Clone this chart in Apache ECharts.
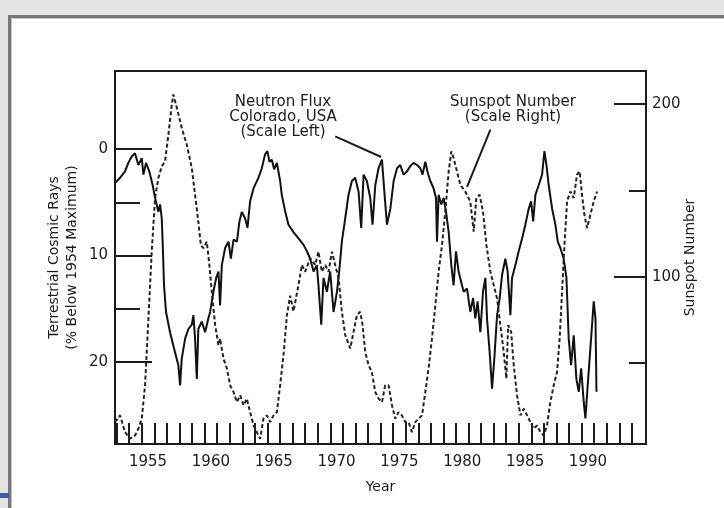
<!DOCTYPE html>
<html>
<head>
<meta charset="utf-8">
<script src="https://cdn.jsdelivr.net/npm/echarts@6.0.0/dist/echarts.min.js"></script>
<style>
  html, body { margin: 0; padding: 0; background: #e4e4e4; overflow: hidden; }
  #panel { position: absolute; left: 8px; top: 15px; width: 730px; height: 500px; background: #fff;
    border-top: 3px solid #777; border-left: 3px solid #777; box-shadow: inset 1px 1px 0 #c4c4c4; }
  #tab { position: absolute; left: 0; top: 493px; width: 9px; height: 5px; background: #3b5bb5; }
  #main { position: absolute; left: 0; top: 0; width: 724px; height: 508px; }
</style>
</head>
<body>
<div id="panel"></div>
<div id="tab"></div>
<div id="main"></div>
<script>
// neutron flux, Colorado (% below 1954 maximum, left scale, inverted)
const neutronYears = [
  1952.37, 1952.77, 1953.17, 1953.43, 1953.70, 1953.96, 1954.23, 1954.50, 1954.63, 1954.84,
  1955.10, 1955.37, 1955.56, 1955.82, 1955.96, 1956.09, 1956.17, 1956.27, 1956.43, 1956.75,
  1957.15, 1957.41, 1957.55, 1957.68, 1957.95, 1958.21, 1958.48, 1958.61, 1958.74, 1958.88,
  1959.00, 1959.27, 1959.54, 1959.80, 1959.94, 1960.20, 1960.42, 1960.60, 1960.73, 1960.87,
  1961.13, 1961.40, 1961.59, 1961.80, 1962.07, 1962.27, 1962.46, 1962.72, 1962.91, 1963.12,
  1963.39, 1963.78, 1964.05, 1964.31, 1964.50, 1964.66, 1964.85, 1965.03, 1965.25, 1965.51,
  1965.64, 1965.90, 1966.17, 1966.57, 1966.97, 1967.37, 1967.64, 1967.90, 1968.17, 1968.43,
  1968.56, 1968.78, 1968.96, 1969.23, 1969.49, 1969.76, 1970.03, 1970.21, 1970.42, 1970.69,
  1970.95, 1971.22, 1971.48, 1971.75, 1971.96, 1972.15, 1972.41, 1972.68, 1972.86, 1973.08,
  1973.34, 1973.61, 1973.82, 1974.01, 1974.28, 1974.54, 1974.81, 1975.07, 1975.33, 1975.60,
  1975.87, 1976.13, 1976.40, 1976.66, 1976.84, 1977.06, 1977.27, 1977.46, 1977.72, 1977.91,
  1977.99, 1978.12, 1978.33, 1978.52, 1978.71, 1978.92, 1979.13, 1979.31, 1979.50, 1979.71,
  1979.98, 1980.11, 1980.38, 1980.64, 1980.86, 1981.04, 1981.22, 1981.44, 1981.65, 1981.84,
  1981.97, 1982.18, 1982.37, 1982.55, 1982.77, 1982.98, 1983.17, 1983.43, 1983.61, 1983.83,
  1983.96, 1984.23, 1984.49, 1984.76, 1985.02, 1985.29, 1985.48, 1985.64, 1985.82, 1986.08,
  1986.35, 1986.54, 1986.70, 1986.88, 1987.15, 1987.41, 1987.60, 1987.81, 1988.07, 1988.29,
  1988.47, 1988.66, 1988.87, 1989.08, 1989.27, 1989.46, 1989.67, 1989.80, 1989.98, 1990.25,
  1990.46, 1990.60, 1990.68
]
const neutronFlux = [
  3.2, 2.7, 2.1, 1.3, 0.7, 0.4, 1.5, 0.85, 2.4, 1.3,
  2.1, 3.4, 4.6, 5.9, 5.2, 6.5, 9.0, 12.8, 15.3, 17.2,
  19.1, 20.3, 22.2, 19.7, 17.8, 16.9, 16.5, 15.6, 17.8, 21.6,
  16.9, 16.2, 17.2, 15.9, 15.3, 13.4, 12.1, 11.5, 14.7, 10.9,
  9.3, 8.7, 10.3, 8.5, 8.7, 6.8, 5.9, 6.5, 7.4, 4.9,
  3.7, 2.7, 1.8, 0.5, 0.2, 1.2, 1.0, 1.9, 1.3, 3.0,
  4.3, 5.8, 7.1, 7.8, 8.4, 9.0, 9.6, 10.3, 11.5, 10.9,
  12.8, 16.5, 12.1, 13.4, 11.5, 15.3, 13.4, 11.5, 8.7, 6.5,
  4.3, 3.0, 2.7, 4.0, 7.4, 2.4, 3.0, 4.6, 7.1, 3.4,
  1.8, 1.0, 4.3, 7.1, 5.6, 3.0, 1.8, 1.5, 2.4, 2.1,
  1.6, 1.3, 1.5, 1.8, 2.4, 1.2, 2.3, 3.0, 3.7, 4.6,
  8.7, 4.3, 5.2, 4.6, 5.9, 7.8, 10.9, 12.8, 9.6, 11.5,
  12.8, 13.4, 13.1, 15.3, 14.0, 15.9, 14.3, 17.2, 13.4, 12.1,
  15.9, 19.1, 22.5, 19.7, 15.6, 14.0, 11.8, 10.3, 11.5, 15.6,
  12.1, 10.9, 9.6, 8.4, 7.1, 5.6, 4.9, 6.8, 4.3, 3.4,
  2.4, 0.2, 1.5, 3.4, 5.6, 7.1, 8.7, 9.3, 10.3, 12.1,
  17.8, 20.3, 17.5, 21.6, 22.8, 20.6, 23.8, 25.3, 22.2, 17.8,
  14.3, 15.9, 22.8
]

// sunspot number (right scale)
const sunspotYears = [
  1952.37, 1952.77, 1953.17, 1953.57, 1953.96, 1954.23, 1954.50, 1954.76, 1955.03, 1955.29,
  1955.56, 1955.82, 1956.09, 1956.35, 1956.62, 1956.89, 1957.01, 1957.29, 1957.68, 1958.08,
  1958.48, 1958.74, 1959.00, 1959.20, 1959.40, 1959.67, 1959.88, 1960.07, 1960.34, 1960.60,
  1960.73, 1961.00, 1961.27, 1961.53, 1961.80, 1962.07, 1962.33, 1962.60, 1962.86, 1963.12,
  1963.39, 1963.66, 1963.92, 1964.18, 1964.45, 1964.72, 1964.98, 1965.25, 1965.51, 1965.80,
  1966.05, 1966.31, 1966.57, 1966.97, 1967.24, 1967.50, 1967.90, 1968.30, 1968.56, 1968.83,
  1969.10, 1969.36, 1969.63, 1969.89, 1970.16, 1970.42, 1970.69, 1971.09, 1971.35, 1971.62,
  1971.88, 1972.07, 1972.28, 1972.55, 1972.81, 1973.08, 1973.34, 1973.61, 1973.87, 1974.14,
  1974.41, 1974.67, 1974.93, 1975.20, 1975.47, 1975.73, 1976.00, 1976.26, 1976.53, 1976.80,
  1977.06, 1977.32, 1977.59, 1977.86, 1978.12, 1978.39, 1978.65, 1978.92, 1979.13, 1979.31,
  1979.58, 1979.85, 1980.24, 1980.64, 1980.91, 1981.12, 1981.38, 1981.65, 1981.92, 1982.24,
  1982.50, 1982.77, 1983.03, 1983.30, 1983.51, 1983.65, 1983.89, 1984.10, 1984.36, 1984.63,
  1984.89, 1985.16, 1985.42, 1985.68, 1985.95, 1986.22, 1986.48, 1986.75, 1987.01, 1987.28,
  1987.54, 1987.75, 1987.94, 1988.13, 1988.34, 1988.60, 1988.87, 1989.13, 1989.34, 1989.53,
  1989.72, 1989.93, 1990.19, 1990.46, 1990.73
]
const sunspotNumber = [
  15.9, 19.8, 10.1, 6.3, 8.2, 12.1, 17.9, 37.2, 75.9, 114.5,
  145.5, 157.1, 163.8, 166.7, 182.2, 199.6, 205.4, 197.7, 186.1, 176.4,
  162.9, 147.4, 131.9, 118.4, 116.5, 120.3, 106.8, 91.3, 72.0, 60.4,
  64.3, 52.7, 46.9, 37.2, 33.3, 27.5, 31.4, 25.6, 29.5, 21.7,
  14.0, 10.1, 6.3, 17.9, 19.8, 15.9, 19.8, 21.7, 37.2, 56.5,
  78.0, 89.0, 80.0, 95.2, 106.8, 102.9, 110.7, 106.8, 114.5, 102.9,
  106.8, 102.9, 114.5, 106.8, 99.1, 79.7, 66.2, 58.5, 68.1, 77.8,
  79.7, 72.0, 56.5, 48.8, 44.9, 33.3, 29.5, 27.5, 37.2, 37.2,
  25.6, 17.9, 21.7, 19.8, 15.9, 15.9, 10.1, 15.9, 17.9, 19.8,
  33.3, 46.9, 64.3, 83.6, 102.9, 118.4, 137.7, 160.9, 172.5, 168.7,
  160.9, 153.2, 149.3, 143.5, 126.1, 145.5, 147.4, 137.7, 118.4, 102.9,
  95.2, 87.5, 72.0, 56.5, 41.1, 72.0, 68.1, 48.8, 31.4, 19.8,
  23.6, 19.8, 15.9, 12.1, 14.0, 10.1, 8.2, 14.0, 27.5, 37.2,
  44.9, 64.3, 91.3, 118.4, 143.5, 149.3, 145.5, 159.0, 160.9, 147.4,
  135.8, 128.1, 135.8, 143.5, 149.3
]

const yearLabels = [1955, 1960, 1965, 1970, 1975, 1980, 1985, 1990]
const yearTicks = [
  1952.5, 1953.5, 1954.5, 1955.5, 1956.5, 1957.5, 1958.5, 1959.5, 1960.5, 1961.5,
  1962.5, 1963.5, 1964.5, 1965.5, 1966.5, 1967.5, 1968.5, 1969.5, 1970.5, 1971.5,
  1972.5, 1973.5, 1974.5, 1975.5, 1976.5, 1977.5, 1978.5, 1979.5, 1980.5, 1981.5,
  1982.5, 1983.5, 1984.5, 1985.5, 1986.5, 1987.5, 1988.5, 1989.5, 1990.5, 1991.5,
  1992.5, 1993.5
]
const leftLabels = [0, 10, 20]
const leftMinorTicks = [5, 15]
const rightLabels = [100, 200]
const rightMinorTicks = [50, 150]

const ink = '#1c1c1c'
const font = 'DejaVu Sans'
const tickLine = { lineStyle: { color: ink, width: 2 } }

function leftAxis(ticks, len, withLabels) {
  return {
    type: 'value',
    position: 'left',
    min: -7.33,
    max: 27.7,
    inverse: true,
    splitLine: { show: false },
    axisLine: { show: withLabels, onZero: false, lineStyle: { color: ink, width: 2 } },
    axisTick: { inside: true, length: len, customValues: ticks, ...tickLine },
    axisLabel: withLabels
      ? { customValues: ticks, margin: 7, fontFamily: font, fontSize: 15, color: ink }
      : { show: false },
  }
}
function rightAxis(ticks, len, withLabels) {
  return {
    type: 'value',
    position: 'right',
    min: 3.25,
    max: 219,
    splitLine: { show: false },
    axisLine: { show: withLabels, onZero: false, lineStyle: { color: ink, width: 2 } },
    axisTick: { inside: true, length: len, customValues: ticks, ...tickLine },
    axisLabel: withLabels
      ? { customValues: ticks, margin: 6, fontFamily: font, fontSize: 15, color: ink }
      : { show: false },
  }
}

const yLeft = leftAxis(leftLabels, 37, true)
yLeft.name = 'Terrestrial Cosmic Rays\n(% Below 1954 Maximum)'
yLeft.nameLocation = 'middle'
yLeft.nameRotate = 90
yLeft.nameGap = 34
yLeft.nameMoveOverlap = false
yLeft.nameTextStyle = { fontFamily: font, fontSize: 14, lineHeight: 18, color: ink }

const yRight = rightAxis(rightLabels, 32, true)
yRight.name = 'Sunspot Number'
yRight.nameLocation = 'middle'
yRight.nameRotate = 90
yRight.nameGap = 37
yRight.nameMoveOverlap = false
yRight.nameTextStyle = { fontFamily: font, fontSize: 14, color: ink }

const arrowLine = {
  silent: true,
  symbol: ['none', 'arrow'],
  symbolSize: [0, 9],
  label: { show: false },
  lineStyle: { type: 'solid', color: ink, width: 2 },
}

const option = {
  animation: false,
  grid: { left: 115, right: 78, top: 71, bottom: 64, show: true, borderColor: ink, borderWidth: 2 },
  xAxis: {
    type: 'value',
    min: 1952.37,
    max: 1994.62,
    splitLine: { show: false },
    axisLine: { onZero: false, lineStyle: { color: ink, width: 2 } },
    axisTick: { inside: true, length: 21, customValues: yearTicks, ...tickLine },
    axisLabel: {
      customValues: yearLabels, margin: 11, fontFamily: font, fontSize: 15, color: ink,
      formatter: (v) => String(v),
    },
    name: 'Year',
    nameLocation: 'middle',
    nameGap: 36,
    nameMoveOverlap: false,
    nameTextStyle: { fontFamily: font, fontSize: 14, color: ink },
  },
  yAxis: [
    yLeft,
    leftAxis(leftMinorTicks, 25, false),
    yRight,
    rightAxis(rightMinorTicks, 17, false),
  ],
  graphic: [
    {
      type: 'text', x: 283, y: 95,
      style: { text: 'Neutron Flux\nColorado, USA\n(Scale Left)', align: 'center', verticalAlign: 'top',
        fontFamily: font, fontSize: 15, lineHeight: 15, fill: ink },
    },
    {
      type: 'text', x: 513, y: 95,
      style: { text: 'Sunspot Number\n(Scale Right)', align: 'center', verticalAlign: 'top',
        fontFamily: font, fontSize: 15, lineHeight: 15, fill: ink },
    },
  ],
  series: [
    {
      name: 'Neutron Flux',
      type: 'line',
      yAxisIndex: 0,
      symbol: 'none',
      data: neutronYears.map((t, i) => [t, neutronFlux[i]]),
      lineStyle: { color: '#111', width: 2 },
      markLine: { ...arrowLine, data: [[{ coord: [1969.89, -1.19] }, { coord: [1973.55, 0.75] }]] },
    },
    {
      name: 'Sunspot Number',
      type: 'line',
      yAxisIndex: 2,
      symbol: 'none',
      data: sunspotYears.map((t, i) => [t, sunspotNumber[i]]),
      lineStyle: { color: '#222', width: 2, type: [4, 2.5] },
      markLine: { ...arrowLine, data: [[{ coord: [1982.24, 185.1] }, { coord: [1980.38, 152.0] }]] },
    },
  ],
}

const chart = echarts.init(document.getElementById('main'))
chart.setOption(option)
</script>
</body>
</html>
